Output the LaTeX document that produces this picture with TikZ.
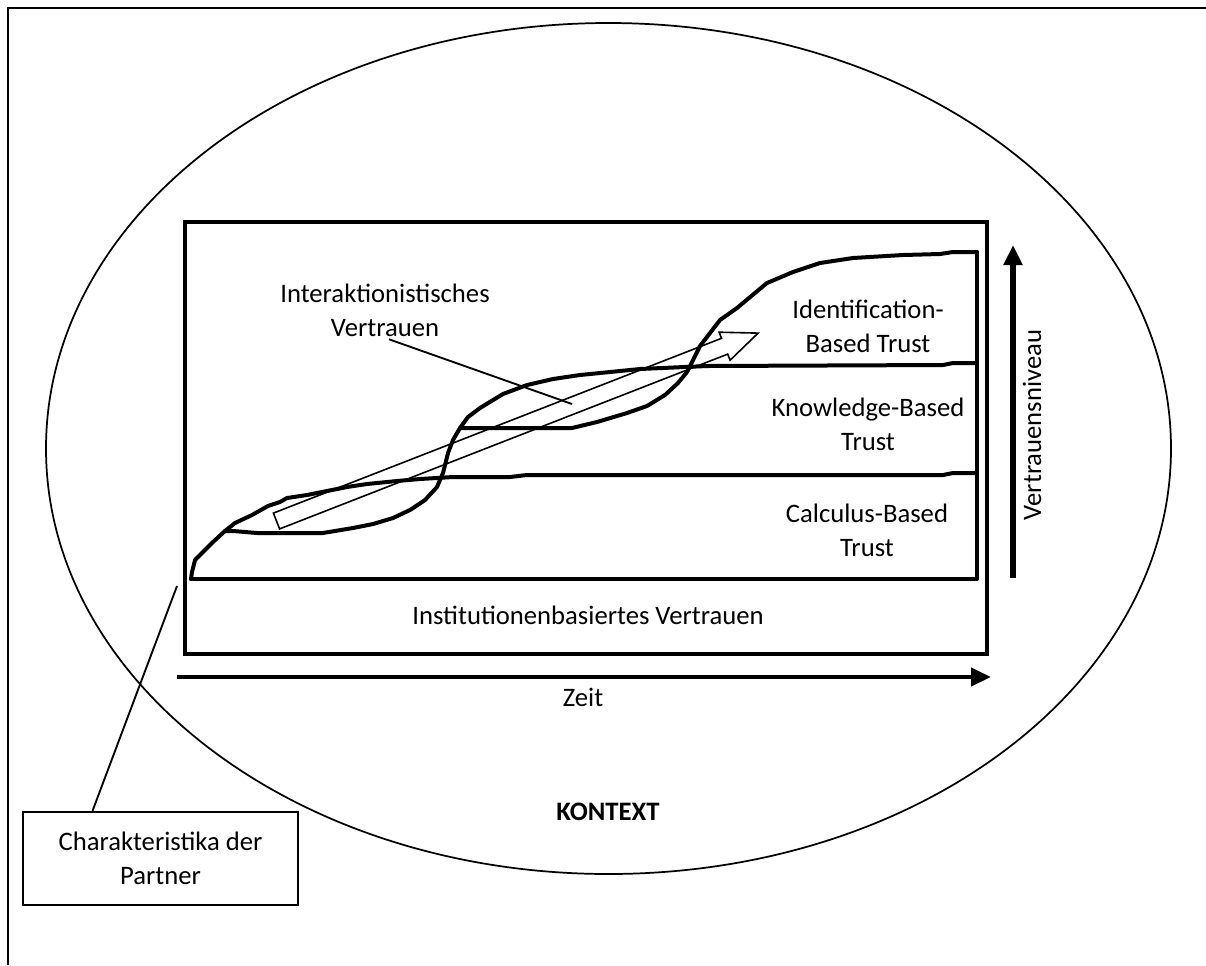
\documentclass[tikz,border=0pt]{standalone}
\usepackage{fontspec}
\setmainfont{Carlito}
\usetikzlibrary{arrows.meta}
\begin{document}
\begin{tikzpicture}[x=0.75pt,y=-0.75pt,
  lbl/.style={font=\fontsize{20}{25.5}\selectfont, align=center, inner sep=0pt},
  frameline/.style={line width=1.4pt},
  outline/.style={line width=1.3pt},
  boxline/.style={line width=3.6pt, line join=miter},
  trustline/.style={line width=3pt, line join=round, line cap=round},
  leader/.style={line width=1.4pt},
  hollowarrow/.style={line width=1.2pt, line join=miter},
  axis/.style={line width=#1, -{Triangle[length=15pt, width=13.5pt]}},
]
\useasboundingbox (0,0) rectangle (1206,965);

% page frame
\draw[frameline] (8,965) -- (8,8) -- (1206,8);

% context ellipse
\draw[outline] (608.5,448.5) ellipse [x radius=562.5, y radius=425.5];
\node[lbl, font=\fontsize{20}{25.5}\selectfont\bfseries] (kontext) at (608,812) {KONTEXT};

% institution frame
\draw[boxline] (185,222) rectangle (987,654);
\node[lbl] (inst) at (588,615) {Institutionenbasiertes Vertrauen};

% base and right side of the trust graph
\draw[trustline] (191,579) -- (977,579) -- (977,252);

% calculus-based trust: upper boundary
\draw[trustline] (191,579) -- (192,572) -- (195,560) -- (203,552) -- (213,542)
  -- (225,531) -- (235,523) -- (252,515) -- (268,506) -- (280,502) -- (287,498)
  -- (307,495) -- (327,491) -- (347,487) -- (367,484) -- (397,481) -- (420,479)
  -- (453,477) -- (510,477) -- (527,475) -- (943,475) -- (953,473) -- (977,473);

% lower loop and S-rise into knowledge-based trust
\draw[trustline] (225,531) -- (233,531) -- (257,533) -- (323,533) -- (353,528)
  -- (373,524) -- (393,518) -- (410,510) -- (425,500) -- (437,487) -- (443,473)
  -- (448,453) -- (453,440) -- (460,428) -- (468,417) -- (480,408) -- (503,394)
  -- (527,385) -- (553,379) -- (580,375) -- (620,371) -- (640,369) -- (707,366)
  -- (943,365) -- (953,363) -- (977,363);

% knowledge loop and S-rise into identification-based trust
\draw[trustline] (460,428) -- (572,428) -- (597,422) -- (627,413) -- (647,406)
  -- (665,395) -- (678,383) -- (687,372) -- (693,360) -- (700,346) -- (710,333)
  -- (720,320) -- (737,308) -- (767,283) -- (793,272) -- (820,263) -- (853,258)
  -- (903,255) -- (940,254) -- (953,252) -- (977,252);

% hollow arrow of interactional trust
\draw[hollowarrow] (273.4,513.1) -- (721.5,338.3) -- (719.1,332.2) -- (758.1,333.1)
  -- (730.1,360.2) -- (727.7,354.1) -- (279.6,528.9) -- cycle;

% labels of the trust levels
\node[lbl] (ibt) at (868,326) {Identification-\\Based Trust};
\node[lbl] (kbt) at (868,424) {Knowledge-Based\\Trust};
\node[lbl] (cbt) at (867,530) {Calculus-Based\\Trust};

% interactional trust label and its leader
\node[lbl] (inter) at (385,310) {Interaktionistisches\\Vertrauen};
\coordinate (interend) at (572,404);
\draw[leader] ([xshift=3pt,yshift=-2pt]inter.south) -- (interend);

% axes
\coordinate (tstart) at (177,677);
\coordinate (tend) at (991,677);
\draw[axis=3.2pt] (tstart) -- (tend);
\node[lbl] (zeit) at (583,697) {Zeit};

\coordinate (vstart) at (1013,578);
\coordinate (vend) at (1013,245);
\draw[axis=4.5pt] (vstart) -- (vend);
\node[lbl, rotate=90] (niveau) at (1032,425) {Vertrauensniveau};

% partner characteristics
\node[lbl, draw, line width=1.4pt, minimum width=206pt, minimum height=70pt]
  (partner) at (160.5,858.5) {Charakteristika der\\Partner};
\coordinate (partnerend) at (177,586);
\draw[leader] ([xshift=-51pt]partner.north) -- (partnerend);
\end{tikzpicture}
\end{document}
